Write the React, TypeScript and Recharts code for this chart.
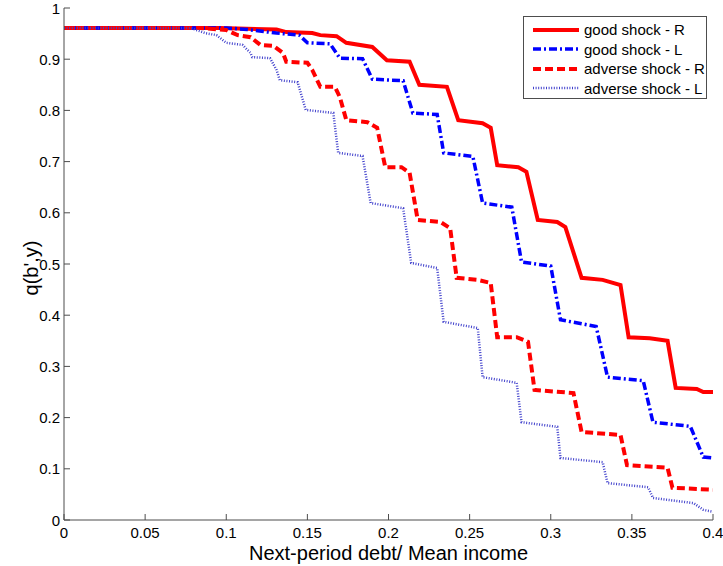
import { LineChart, Line, XAxis, YAxis } from "recharts";

type Pt = { x: number; y: number };

const xTicks = [0, 0.05, 0.1, 0.15, 0.2, 0.25, 0.3, 0.35, 0.4];
const yTicks = [0, 0.1, 0.2, 0.3, 0.4, 0.5, 0.6, 0.7, 0.8, 0.9, 1];

const goodR: Pt[] = [
  [0, 0.961], [0.096, 0.961], [0.131, 0.958], [0.137, 0.953], [0.153, 0.951], [0.158, 0.947],
  [0.168, 0.945], [0.174, 0.932], [0.19, 0.924], [0.199, 0.898], [0.213, 0.895], [0.219, 0.85],
  [0.236, 0.846], [0.243, 0.781], [0.258, 0.775], [0.263, 0.766], [0.267, 0.693], [0.28, 0.689],
  [0.285, 0.68], [0.292, 0.586], [0.304, 0.582], [0.309, 0.572], [0.319, 0.473], [0.332, 0.469],
  [0.343, 0.459], [0.348, 0.357], [0.361, 0.355], [0.372, 0.35], [0.377, 0.258], [0.39, 0.256],
  [0.394, 0.25], [0.4, 0.25],
].map(([x, y]) => ({ x, y }));

const goodL: Pt[] = [
  [0, 0.961], [0.1, 0.961], [0.113, 0.958], [0.131, 0.951], [0.145, 0.947], [0.15, 0.932],
  [0.164, 0.93], [0.17, 0.902], [0.184, 0.901], [0.19, 0.861], [0.209, 0.858], [0.215, 0.795],
  [0.23, 0.792], [0.234, 0.717], [0.252, 0.71], [0.258, 0.619], [0.276, 0.611], [0.282, 0.504],
  [0.3, 0.496], [0.306, 0.391], [0.328, 0.378], [0.335, 0.279], [0.357, 0.272], [0.363, 0.191],
  [0.386, 0.183], [0.394, 0.123], [0.4, 0.121],
].map(([x, y]) => ({ x, y }));

const adverseR: Pt[] = [
  [0, 0.961], [0.084, 0.961], [0.1, 0.957], [0.107, 0.947], [0.115, 0.943], [0.121, 0.928],
  [0.129, 0.926], [0.135, 0.912], [0.137, 0.895], [0.15, 0.893], [0.153, 0.879], [0.158, 0.846],
  [0.167, 0.846], [0.17, 0.826], [0.174, 0.781], [0.187, 0.777], [0.193, 0.766], [0.198, 0.689],
  [0.208, 0.689], [0.213, 0.678], [0.218, 0.586], [0.232, 0.582], [0.238, 0.57], [0.242, 0.473],
  [0.255, 0.469], [0.263, 0.463], [0.267, 0.357], [0.279, 0.357], [0.286, 0.348], [0.29, 0.254],
  [0.314, 0.248], [0.319, 0.172], [0.343, 0.166], [0.347, 0.107], [0.372, 0.102], [0.375, 0.063],
  [0.4, 0.059],
].map(([x, y]) => ({ x, y }));

const adverseL: Pt[] = [
  [0, 0.961], [0.078, 0.961], [0.087, 0.951], [0.094, 0.947], [0.1, 0.932], [0.11, 0.928],
  [0.115, 0.912], [0.116, 0.904], [0.127, 0.902], [0.131, 0.879], [0.133, 0.859], [0.144, 0.855],
  [0.149, 0.801], [0.166, 0.795], [0.169, 0.717], [0.184, 0.711], [0.189, 0.619], [0.209, 0.609],
  [0.214, 0.502], [0.23, 0.492], [0.234, 0.387], [0.255, 0.375], [0.258, 0.279], [0.279, 0.268],
  [0.282, 0.191], [0.304, 0.182], [0.306, 0.121], [0.332, 0.113], [0.335, 0.072], [0.36, 0.064],
  [0.363, 0.043], [0.388, 0.033], [0.394, 0.02], [0.4, 0.016],
].map(([x, y]) => ({ x, y }));

const FONT = "'Liberation Sans', Arial, sans-serif";
const AXIS = "#4d4d4d";

const series = [
  { name: "good shock - R", data: goodR, stroke: "#ff0000", width: 4, dash: undefined as string | undefined },
  { name: "good shock - L", data: goodL, stroke: "#0000ff", width: 3.5, dash: "8 3 2 3" },
  { name: "adverse shock - R", data: adverseR, stroke: "#ff0000", width: 4, dash: "8 4" },
  { name: "adverse shock - L", data: adverseL, stroke: "#4040cc", width: 2.5, dash: "1 1.6" },
];

function BottomTick({ x, y, payload }: any) {
  return (
    <g>
      <line x1={x} x2={x} y1={y} y2={y - 6} stroke={AXIS} />
      <text x={x} y={y + 18} textAnchor="middle" fontSize={15} fontFamily={FONT} fill="#000">
        {payload.value}
      </text>
    </g>
  );
}

function TopTick({ x, y }: any) {
  return <line x1={x} x2={x} y1={y} y2={y + 6} stroke={AXIS} />;
}

function LeftTick({ x, y, payload }: any) {
  return (
    <g>
      <line x1={x} x2={x + 6} y1={y} y2={y} stroke={AXIS} />
      <text x={x - 4} y={y + 5.5} textAnchor="end" fontSize={15} fontFamily={FONT} fill="#000">
        {payload.value}
      </text>
    </g>
  );
}

function RightTick({ x, y }: any) {
  return <line x1={x} x2={x - 6} y1={y} y2={y} stroke={AXIS} />;
}

export default function App() {
  return (
    <div style={{ position: "absolute", left: 0, top: 0, width: 723, height: 566, background: "#fff" }}>
      <LineChart width={723} height={566} margin={{ top: 8, right: 10, bottom: 16, left: 4 }}>
        <XAxis
          type="number"
          dataKey="x"
          domain={[0, 0.4]}
          ticks={xTicks}
          allowDataOverflow
          height={30}
          tickSize={0}
          tickMargin={0}
          tickLine={false}
          axisLine={{ stroke: AXIS }}
          tick={<BottomTick />}
          interval={0}
        />
        <XAxis
          xAxisId="top"
          orientation="top"
          type="number"
          dataKey="x"
          domain={[0, 0.4]}
          ticks={xTicks}
          height={0}
          tickSize={0}
          tickMargin={0}
          tickLine={false}
          axisLine={{ stroke: AXIS }}
          tick={<TopTick />}
          interval={0}
        />
        <YAxis
          type="number"
          domain={[0, 1]}
          ticks={yTicks}
          allowDataOverflow
          width={60}
          tickSize={0}
          tickMargin={0}
          tickLine={false}
          axisLine={{ stroke: AXIS }}
          tick={<LeftTick />}
          interval={0}
        />
        <YAxis
          yAxisId="right"
          orientation="right"
          type="number"
          domain={[0, 1]}
          ticks={yTicks}
          width={0}
          tickSize={0}
          tickMargin={0}
          tickLine={false}
          axisLine={{ stroke: AXIS }}
          tick={<RightTick />}
          interval={0}
        />
        {series.map((s) => (
          <Line
            key={s.name}
            data={s.data}
            dataKey="y"
            name={s.name}
            type="linear"
            stroke={s.stroke}
            strokeWidth={s.width}
            strokeDasharray={s.dash}
            dot={false}
            activeDot={false}
            isAnimationActive={false}
          />
        ))}
      </LineChart>

      <div
        style={{
          position: "absolute",
          left: 0,
          width: 777,
          top: 542,
          height: 22,
          lineHeight: "22px",
          textAlign: "center",
          fontFamily: FONT,
          fontSize: 20,
          color: "#000",
        }}
      >
        Next-period debt/ Mean income
      </div>
      <div
        style={{
          position: "absolute",
          left: 31,
          top: 268,
          lineHeight: "22px",
          transform: "translate(-50%, -50%) rotate(-90deg)",
          fontFamily: FONT,
          fontSize: 20,
          color: "#000",
          whiteSpace: "nowrap",
        }}
      >
        q(b',y)
      </div>

      <div
        style={{
          position: "absolute",
          left: 523,
          top: 16,
          width: 184,
          height: 83,
          border: `1px solid ${AXIS}`,
          background: "#fff",
          fontFamily: FONT,
          fontSize: 15,
          color: "#000",
          boxSizing: "border-box",
        }}
      >
        {series.map((s, i) => (
          <div
            key={s.name}
            style={{ position: "absolute", left: 8, top: 3 + i * 19.5, height: 19, display: "flex", alignItems: "center" }}
          >
            <svg width={48} height={10} style={{ marginRight: 4 }}>
              <line
                x1={1}
                x2={47}
                y1={5}
                y2={5}
                stroke={s.stroke}
                strokeWidth={s.width}
                strokeDasharray={s.dash}
              />
            </svg>
            <span>{s.name}</span>
          </div>
        ))}
      </div>
    </div>
  );
}
